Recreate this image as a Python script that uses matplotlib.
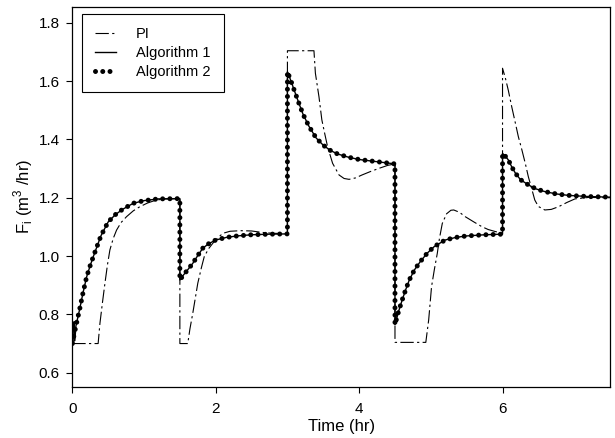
import matplotlib
matplotlib.use("Agg")
import matplotlib.pyplot as plt

plt.rcParams["font.family"] = ["Liberation Sans", "DejaVu Sans"]
plt.rcParams["mathtext.fontset"] = "custom"
plt.rcParams["mathtext.rm"] = "Liberation Sans"

# values (time in hr, flow in m3/hr)
alg_t = [0.0, 0.05, 0.1, 0.15, 0.2, 0.25, 0.3, 0.4, 0.5, 0.6, 0.7, 0.85, 1.0, 1.2, 1.5,
         1.5, 1.55, 1.6, 1.68, 1.75, 1.82, 1.9, 2.0, 2.15, 2.3, 2.5, 2.75, 3.0,
         3.0, 3.05, 3.1, 3.16, 3.22, 3.3, 3.4, 3.5, 3.6, 3.7, 3.85, 4.0, 4.2, 4.5,
         4.5, 4.55, 4.6, 4.65, 4.7, 4.77, 4.85, 4.95, 5.05, 5.2, 5.35, 5.5, 5.75, 6.0,
         6.0, 6.04, 6.08, 6.13, 6.18, 6.25, 6.36, 6.47, 6.59, 6.75, 6.92, 7.2, 7.5]
alg_y = [0.70, 0.76, 0.815, 0.875, 0.929, 0.968, 1.003, 1.070, 1.117, 1.142, 1.160, 1.181, 1.190, 1.196, 1.197,
         0.918, 0.935, 0.950, 0.975, 1.002, 1.027, 1.042, 1.055, 1.064, 1.069, 1.073, 1.075, 1.076,
         1.632, 1.600, 1.565, 1.524, 1.485, 1.445, 1.405, 1.380, 1.362, 1.350, 1.339, 1.331, 1.325, 1.316,
         0.765, 0.810, 0.849, 0.885, 0.918, 0.952, 0.980, 1.010, 1.033, 1.055, 1.064, 1.069, 1.073, 1.075,
         1.352, 1.342, 1.330, 1.305, 1.284, 1.262, 1.244, 1.230, 1.221, 1.213, 1.208, 1.204, 1.202]

# Algorithm 1 has a small spike right at the start, otherwise it sits on Algorithm 2
alg1_t = [0.0, 0.02, 0.025, 0.035] + alg_t[1:]
alg1_y = [0.70, 0.70, 0.775, 0.71] + alg_y[1:]

pi_t = [0.0, 0.36, 0.385, 0.42, 0.455, 0.49, 0.524, 0.57, 0.617, 0.68, 0.756, 0.85, 0.94, 1.05, 1.17, 1.3, 1.5,
        1.5, 1.61, 1.64, 1.68, 1.75, 1.80, 1.84, 1.90, 1.96, 2.03, 2.10, 2.2, 2.35, 2.5, 2.65, 2.8, 3.0,
        3.0, 3.37, 3.39, 3.44, 3.48, 3.52, 3.56, 3.63, 3.72, 3.79, 3.86, 3.95, 4.04, 4.16, 4.28, 4.40, 4.5,
        4.5, 4.93, 4.97, 5.01, 5.05, 5.09, 5.12, 5.16, 5.22, 5.28, 5.32, 5.40, 5.48, 5.6, 5.71, 5.8, 5.9, 6.0,
        6.0, 6.04, 6.08, 6.13, 6.18, 6.22, 6.27, 6.32, 6.36, 6.41, 6.45, 6.5, 6.59, 6.68, 6.78, 6.9, 7.01, 7.2, 7.5]
pi_y = [0.70, 0.70, 0.769, 0.84, 0.907, 0.97, 1.021, 1.06, 1.089, 1.115, 1.135, 1.155, 1.169, 1.182, 1.192, 1.196, 1.197,
        0.70, 0.70, 0.75, 0.804, 0.907, 0.96, 0.998, 1.025, 1.044, 1.063, 1.078, 1.085, 1.087, 1.086, 1.081, 1.078, 1.077,
        1.704, 1.704, 1.627, 1.546, 1.467, 1.42, 1.375, 1.318, 1.278, 1.266, 1.263, 1.268, 1.278, 1.290, 1.301, 1.311, 1.316,
        0.704, 0.704, 0.781, 0.895, 0.955, 1.009, 1.06, 1.112, 1.145, 1.157, 1.158, 1.150, 1.135, 1.117, 1.101, 1.091, 1.084, 1.078,
        1.644, 1.61, 1.569, 1.51, 1.455, 1.41, 1.364, 1.315, 1.272, 1.228, 1.192, 1.170, 1.158, 1.160, 1.169, 1.184, 1.196, 1.201, 1.200]

x_ticks = [0, 2, 4, 6]
y_ticks = [0.6, 0.8, 1.0, 1.2, 1.4, 1.6, 1.8]

fig = plt.figure(figsize=(6.15, 4.38), dpi=100)
ax = fig.add_axes([0.1176, 0.1171, 0.8744, 0.8676])

ax.plot(pi_t, pi_y, color="black", lw=0.8, linestyle=(0, (12, 3, 2, 3)), label="PI")
ax.plot(alg1_t, alg1_y, color="black", lw=1.0, label="Algorithm 1")
ax.plot(alg_t, alg_y, color="black", lw=3.6, linestyle=(0, (0.001, 1.45)),
        dash_capstyle="round", label="Algorithm 2")

ax.set_xlim(0, 7.5)
ax.set_ylim(0.552, 1.855)
ax.set_xticks(x_ticks)
ax.set_yticks(y_ticks)
ax.set_xticklabels([str(v) for v in x_ticks])
ax.set_yticklabels([f"{v:.1f}" for v in y_ticks])
ax.tick_params(direction="out", length=4, width=0.8, labelsize=11)
ax.tick_params(axis="x", pad=7)
ax.tick_params(axis="y", pad=5)
for sp in ax.spines.values():
    sp.set_linewidth(0.9)

ax.set_xlabel("Time (hr)", fontsize=12, labelpad=2)
ax.set_ylabel(r"F$_\mathregular{i}$ (m$^\mathregular{3}$ /hr)", fontsize=12, labelpad=3)

leg = ax.legend(loc="upper left", bbox_to_anchor=(82 / 615, 1 - 14 / 438),
                bbox_transform=fig.transFigure, borderaxespad=0, fontsize=10.5,
                handlelength=1.4, handletextpad=1.4, labelspacing=0.35,
                borderpad=0.9, fancybox=False, framealpha=1)
leg.get_frame().set_edgecolor("black")
leg.get_frame().set_linewidth(0.8)

fig.savefig("out.png", dpi=100)
